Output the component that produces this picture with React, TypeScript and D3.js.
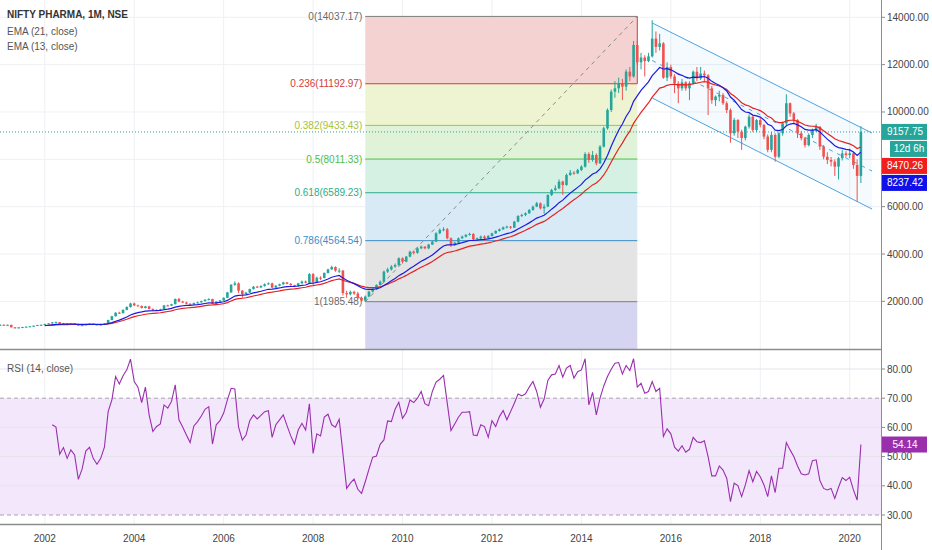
import { useMemo } from "react";
import * as d3 from "d3";

const WIDTH = 932;
const HEIGHT = 550;
const AXIS_X = 881;
const MAIN_BOTTOM = 349;
const RSI_TOP = 350;
const RSI_BOTTOM = 524;
const FONT = "'Liberation Sans', Arial, sans-serif";

const UP = "#26a69a";
const DOWN = "#ef5350";

// monthly bars, index 0 = Jan 2001
const FIRST_OPEN = 990;
const closes = [
  1010, 1000, 1005, 905, 870, 900, 915, 930, 945, 970, 1000, 1010,
  1040, 1070, 1110, 1120, 1050, 1075, 1035, 1060, 1045, 975, 995, 1040,
  1055, 1025, 1005, 1020, 1060, 1210, 1370, 1520, 1500, 1640, 1760, 1910,
  1830, 1800, 1720, 1790, 1680, 1620, 1640, 1660, 1830, 1820, 1880, 2100,
  1990, 1950, 1900, 1860, 1930, 1960, 2010, 2070, 2100, 1900, 1990, 2040,
  2150, 2380, 2700, 2760, 2450, 2300, 2370, 2520, 2620, 2590, 2650, 2720,
  2760, 2580, 2660, 2720, 2800, 2740, 2680, 2640, 2760, 2840, 2790, 3150,
  2820, 3000, 2990, 3200, 3350, 3450, 3300, 3300, 2350, 2300, 2400, 2330,
  2150, 2030, 2200, 2410, 2510, 2690, 2830, 3256, 3350, 3467, 3537, 3819,
  3678, 3889, 4101, 4050, 4241, 4312, 4241, 4400, 4523, 4875, 5016, 5044,
  4664, 4382, 4481, 4664, 4734, 4805, 4847, 4621, 4664, 4734, 4664, 4763,
  4875, 4974, 5044, 5128, 5157, 5114, 5368, 5607, 5649, 5720, 5861, 6001,
  6142, 5931, 6001, 6494, 6706, 6776, 7058, 6917, 7339, 7438, 7409, 7550,
  7691, 8226, 7973, 8184, 7832, 8536, 9310, 10085, 10859, 11000, 11211, 11070,
  11704, 11500, 12830, 12100, 12300, 12150, 12350, 13100, 12750, 12900, 11450, 11900,
  11500, 11200, 11000, 11250, 11000, 11220, 11700, 11420, 11620, 11550, 11000, 10500,
  10650, 10720, 10370, 10080, 9100, 9660, 9170, 8900, 9380, 9800, 9240, 9660,
  9450, 8960, 8400, 9030, 8110, 9100, 9520, 10370, 9940, 9660, 9100, 8890,
  8600, 9030, 9240, 9380, 8540, 8110, 7970, 7900, 7690, 8050, 8250, 8180,
  8250, 7760, 7300, 9157.75,
];
const highs = [
  1030, 1025, 1020, 1015, 915, 910, 925, 940, 955, 980, 1010, 1025,
  1055, 1085, 1125, 1150, 1130, 1090, 1085, 1075, 1070, 1055, 1005, 1050,
  1070, 1065, 1035, 1035, 1075, 1225, 1390, 1540, 1560, 1660, 1790, 1940,
  1950, 1860, 1830, 1810, 1810, 1700, 1660, 1690, 1850, 1860, 1900, 2120,
  2150, 2020, 1990, 1920, 1950, 1990, 2030, 2090, 2130, 2110, 2010, 2060,
  2170, 2400, 2730, 2850, 2800, 2480, 2400, 2540, 2650, 2660, 2680, 2760,
  2800, 2790, 2690, 2750, 2830, 2820, 2770, 2700, 2780, 2880, 2880, 3200,
  3200, 3050, 3060, 3220, 3380, 3510, 3480, 3400, 3330, 2450, 2450, 2450,
  2400, 2200, 2250, 2450, 2560, 2720, 2880, 3300, 3420, 3530, 3600, 3860,
  3860, 3920, 4140, 4150, 4280, 4360, 4330, 4430, 4560, 4920, 5080, 5130,
  5100, 4700, 4520, 4700, 4780, 4850, 4900, 4880, 4700, 4780, 4790, 4800,
  4900, 5000, 5080, 5160, 5200, 5180, 5400, 5640, 5700, 5760, 5900, 6050,
  6200, 6180, 6100, 6520, 6750, 6900, 7150, 7100, 7400, 7550, 7500, 7600,
  7750, 8300, 8300, 8350, 8250, 8600, 9380, 10150, 10950, 11300, 11450, 11400,
  11800, 11900, 13000, 13000, 12500, 12400, 12500, 13880, 13400, 13300, 12950, 12100,
  12000, 11600, 11300, 11400, 11300, 11300, 11750, 11900, 11900, 11750, 11600, 11100,
  10700, 10900, 10800, 10450, 10150, 9750, 9700, 9250, 9420, 9900, 9850, 9700,
  9750, 9500, 9050, 9150, 9100, 9150, 9600, 10750, 10400, 10000, 9700, 9200,
  8950, 9100, 9300, 9500, 9400, 8600, 8300, 8100, 8000, 8100, 8400, 8350,
  8450, 8300, 8000, 9400,
];
const lows = [
  975, 985, 980, 890, 850, 860, 890, 905, 920, 935, 960, 990,
  1000, 1030, 1060, 1100, 1040, 1045, 1025, 1030, 1035, 965, 965, 990,
  1030, 1015, 990, 995, 1010, 1050, 1200, 1360, 1470, 1490, 1620, 1740,
  1800, 1780, 1700, 1700, 1660, 1580, 1600, 1620, 1650, 1790, 1800, 1870,
  1960, 1930, 1880, 1840, 1840, 1910, 1940, 1990, 2040, 1880, 1880, 1970,
  2020, 2130, 2360, 2660, 2350, 2150, 2280, 2350, 2500, 2570, 2560, 2620,
  2700, 2560, 2520, 2640, 2700, 2720, 2660, 2600, 2620, 2740, 2760, 2770,
  2700, 2800, 2900, 2970, 3180, 3330, 3250, 3200, 2250, 2150, 2250, 2270,
  2100, 1990, 1985.48, 2180, 2380, 2480, 2660, 2800, 3200, 3300, 3420, 3500,
  3600, 3650, 3860, 3980, 4010, 4200, 4200, 4200, 4380, 4500, 4840, 4960,
  4620, 4300, 4340, 4450, 4640, 4700, 4780, 4560, 4560, 4620, 4560, 4620,
  4740, 4850, 4950, 5020, 5080, 5060, 5100, 5340, 5560, 5600, 5700, 5830,
  5980, 5880, 5700, 5980, 6450, 6650, 6740, 6500, 6880, 7300, 7350, 7380,
  7500, 7650, 7850, 7900, 7750, 7800, 8500, 9250, 10000, 10600, 10800, 10500,
  10900, 11300, 11450, 12000, 11800, 11500, 12100, 12300, 12500, 12600, 11400, 11300,
  11400, 10800, 10370, 10900, 10900, 10500, 11150, 11300, 11350, 11300, 9870, 10350,
  10250, 10450, 10300, 9950, 8700, 9000, 8900, 8400, 8800, 9300, 9150, 9150,
  9350, 8850, 8300, 8300, 7900, 8050, 9000, 9450, 9800, 9500, 8900, 8800,
  8500, 8550, 8900, 9150, 8400, 8000, 7800, 7700, 7300, 7150, 7950, 8100,
  8050, 7600, 6212, 7000,
];

const RSI_START = 14;
const rsiValues = [
  60.9, 60.1, 50.8, 53.1, 49.4, 52.3, 50.6, 42.2, 45.7, 51.9,
  53.2, 49.4, 47.4, 49.4, 53.2, 65.4, 69.4, 77.4, 74.9, 77.7,
  79.7, 83.4, 75.7, 73.8, 68.5, 73.8, 64.3, 58.6, 60.3, 61.2,
  67.7, 66.6, 68.9, 74.6, 62.6, 60.1, 57.4, 54.8, 60.5, 62.0,
  63.9, 66.2, 67.1, 54.3, 60.9, 62.3, 64.9, 69.4, 73.4, 73.2,
  60.1, 55.7, 57.4, 62.3, 64.3, 62.9, 64.1, 65.4, 65.7, 56.6,
  60.9, 62.6, 64.3, 60.6, 57.1, 54.3, 59.1, 61.4, 59.1, 68.1,
  51.1, 57.8, 57.1, 63.5, 64.5, 60.9, 60.1, 62.8, 51.1, 39.1,
  40.9, 42.3, 38.8, 37.4, 41.4, 45.7, 49.8, 50.2, 54.2, 55.7,
  62.2, 62.0, 66.2, 68.6, 63.1, 65.1, 69.4, 68.5, 70.0, 72.3,
  68.1, 67.4, 72.3, 75.5, 76.5, 77.8, 68.3, 58.9, 61.2, 63.5,
  65.2, 65.2, 65.4, 57.4, 57.2, 60.9, 60.3, 56.6, 62.3, 60.3,
  63.7, 65.8, 62.6, 65.4, 68.3, 71.4, 70.8, 71.5, 73.8, 75.7,
  72.3, 66.9, 69.7, 76.1, 78.0, 78.3, 81.2, 77.2, 80.3, 81.2,
  76.9, 79.1, 79.7, 83.5, 67.7, 72.0, 64.3, 70.0,
  74.2, 77.4, 79.9, 82.0, 82.2, 78.3, 81.2, 79.5, 83.5, 73.8,
  75.1, 71.7, 72.3, 75.7, 72.3, 73.4, 56.9, 59.5, 57.8, 53.2,
  51.9, 53.7, 51.5, 52.5, 56.6, 55.1, 54.8, 55.4, 50.0, 43.4,
  43.4, 46.8, 45.4, 42.6, 34.6, 40.9, 40.1, 36.3, 40.3, 45.2,
  41.4, 44.9, 43.1, 40.3, 36.3, 43.4, 37.7, 46.0, 46.0, 54.8,
  52.3, 50.0, 46.8, 44.1, 43.7, 44.1, 48.6, 48.9, 41.8, 39.1,
  38.6, 39.1, 35.7, 39.5, 42.8, 41.8, 42.9, 38.6, 35.1, 54.14,
];

const priceTicks = [2000, 4000, 6000, 8000, 10000, 12000, 14000];
const rsiTicks = [30, 40, 50, 60, 70, 80];
const yearTicks = [2002, 2004, 2006, 2008, 2010, 2012, 2014, 2016, 2018, 2020];

// fibonacci retracement drawing
const FIB_HIGH = 14037.172;
const FIB_LOW = 1985.482;
const FIB_FROM_BAR = 98; // Mar 2009
const FIB_TO_BAR = 171; // Apr 2015
const fibLevels = [0, 0.236, 0.382, 0.5, 0.618, 0.786, 1, 1.618];
const fibLineColors = ["#7d7d7d", "#d33c3c", "#a8c238", "#4cbe4c", "#2aad8b", "#3a8fc8", "#7d7d7d", "#7d7d7d"];
const fibZoneColors = ["#f5d2d2", "#eef4d1", "#e0f3d8", "#d5f1e3", "#d8eaf6", "#e4e4e4", "#d5d5f2"];

// parallel channel drawing
const channelStart = { bar: 175, upper: 13760, lower: 10590 };
const channelEnd = { bar: 234, upper: 9110, lower: 5900 };

const LAST_CLOSE = 9157.75;
const EMA21_LAST = 8470.26;
const EMA13_LAST = 8237.42;
const RSI_LAST = 54.14;

function ema(values: number[], len: number) {
  const k = 2 / (len + 1);
  let prev = values[0];
  return values.map((v, i) => {
    prev = i === 0 ? v : v * k + prev * (1 - k);
    return prev;
  });
}

export default function App() {
  const xScale = d3.scaleLinear().domain([12, 228]).range([44.8, 849.7]);
  const yPrice = d3.scaleLinear().domain([0, 14000]).range([348.7, 17.3]);
  const yRsi = d3.scaleLinear().domain([30, 80]).range([515, 369]);

  const bars = useMemo(
    () =>
      closes.map((c, i) => {
        const o = i === 0 ? FIRST_OPEN : closes[i - 1];
        return { i, o, c, h: Math.max(highs[i], o, c), l: Math.min(lows[i], o, c) };
      }),
    []
  );

  const ema21 = useMemo(() => ema(closes, 21), []);
  const ema13 = useMemo(() => ema(closes, 13), []);

  const emaLine = d3
    .line<[number, number]>()
    .x((d) => xScale(d[0]))
    .y((d) => yPrice(d[1]));
  const ema21Path = emaLine(ema21.map((v, i) => [i, v] as [number, number]).filter((d) => d[0] >= 12)) || "";
  const ema13Path = emaLine(ema13.map((v, i) => [i, v] as [number, number]).filter((d) => d[0] >= 12)) || "";

  const rsiPath =
    d3
      .line<number>()
      .x((_, i) => xScale(RSI_START + i))
      .y((d) => yRsi(d))(rsiValues) || "";

  const bodyW = 2.6;

  const fibPrice = (lvl: number) => FIB_HIGH - lvl * (FIB_HIGH - FIB_LOW);
  const fibX0 = xScale(FIB_FROM_BAR);
  const fibX1 = xScale(FIB_TO_BAR);

  const chLine = d3.line<[number, number]>().x((d) => xScale(d[0])).y((d) => yPrice(d[1]));
  const cx0 = xScale(channelStart.bar);
  const cx1 = xScale(channelEnd.bar);
  const chPoly = [
    [cx0, yPrice(channelStart.upper)],
    [cx1, yPrice(channelEnd.upper)],
    [cx1, yPrice(channelEnd.lower)],
    [cx0, yPrice(channelStart.lower)],
  ]
    .map((p) => p.join(","))
    .join(" ");

  // stacked price labels on the right axis
  const labelBoxes: { text: string; fill: string; y: number; narrow?: boolean }[] = [];
  const natural = [
    { text: LAST_CLOSE.toFixed(2), fill: UP, y: yPrice(LAST_CLOSE) },
    { text: "12d 6h", fill: UP, y: yPrice(LAST_CLOSE), narrow: true },
    { text: EMA21_LAST.toFixed(2), fill: "#f01e1e", y: yPrice(EMA21_LAST) },
    { text: EMA13_LAST.toFixed(2), fill: "#1010e8", y: yPrice(EMA13_LAST) },
  ];
  natural.forEach((b, i) => {
    const y = i === 0 ? b.y : Math.max(b.y, labelBoxes[i - 1].y + 17);
    labelBoxes.push({ ...b, y });
  });

  return (
    <div style={{ position: "absolute", left: 0, top: 0, width: WIDTH, height: HEIGHT, background: "#fff" }}>
      <svg width={WIDTH} height={HEIGHT} style={{ display: "block", fontFamily: FONT }}>
        <defs>
          <clipPath id="mainClip">
            <rect x={0} y={0} width={AXIS_X} height={MAIN_BOTTOM} />
          </clipPath>
          <clipPath id="rsiClip">
            <rect x={0} y={RSI_TOP} width={AXIS_X} height={RSI_BOTTOM - RSI_TOP} />
          </clipPath>
        </defs>
        <rect x={0} y={0} width={WIDTH} height={HEIGHT} fill="#fff" />

        {/* grid */}
        {yearTicks.map((yr) => {
          const x = xScale((yr - 2001) * 12);
          return <line key={yr} x1={x} x2={x} y1={0} y2={RSI_BOTTOM} stroke="#eef0f4" />;
        })}
        {priceTicks.map((p) => (
          <line key={p} x1={0} x2={AXIS_X} y1={yPrice(p)} y2={yPrice(p)} stroke="#eef0f4" />
        ))}

        {/* main pane */}
        <g clipPath="url(#mainClip)">
          {fibLevels.slice(0, -1).map((lvl, i) => {
            const yTop = yPrice(fibPrice(lvl));
            const yBot = Math.min(yPrice(fibPrice(fibLevels[i + 1])), MAIN_BOTTOM);
            return <rect key={lvl} x={fibX0} y={yTop} width={fibX1 - fibX0} height={yBot - yTop} fill={fibZoneColors[i]} />;
          })}
          {fibLevels.slice(0, -1).map((lvl, i) => (
            <line
              key={lvl}
              x1={fibX0}
              x2={fibX1}
              y1={yPrice(fibPrice(lvl))}
              y2={yPrice(fibPrice(lvl))}
              stroke={fibLineColors[i]}
              strokeWidth={1}
            />
          ))}
          <line x1={fibX1} x2={fibX1} y1={yPrice(fibPrice(0))} y2={yPrice(fibPrice(0.236))} stroke={fibLineColors[1]} />
          <line
            x1={fibX0}
            y1={yPrice(FIB_LOW)}
            x2={fibX1}
            y2={yPrice(FIB_HIGH)}
            stroke="#8a8a8a"
            strokeDasharray="4 4"
          />
          {fibLevels.slice(0, -1).map((lvl, i) => (
            <text
              key={lvl}
              x={fibX0 - 3}
              y={yPrice(fibPrice(lvl))}
              textAnchor="end"
              dominantBaseline="central"
              fontSize={10}
              fill={fibLineColors[i] === "#7d7d7d" ? "#6a6a6a" : fibLineColors[i]}
            >
              {`${lvl}(${fibPrice(lvl).toFixed(2)})`}
            </text>
          ))}

          {/* channel */}
          <polygon points={chPoly} fill="#2196f3" fillOpacity={0.05} />
          <path
            d={chLine([[channelStart.bar, channelStart.upper], [channelEnd.bar, channelEnd.upper]]) || ""}
            stroke="#4ba3e6"
            fill="none"
          />
          <path
            d={chLine([[channelStart.bar, channelStart.lower], [channelEnd.bar, channelEnd.lower]]) || ""}
            stroke="#4ba3e6"
            fill="none"
          />
          <path
            d={
              chLine([
                [channelStart.bar, (channelStart.upper + channelStart.lower) / 2],
                [channelEnd.bar, (channelEnd.upper + channelEnd.lower) / 2],
              ]) || ""
            }
            stroke="#4ba3e6"
            strokeDasharray="4 5"
            fill="none"
          />

          {/* last price line */}
          <line
            x1={0}
            x2={AXIS_X}
            y1={yPrice(LAST_CLOSE)}
            y2={yPrice(LAST_CLOSE)}
            stroke={UP}
            strokeDasharray="1 2"
          />

          {/* candles */}
          {bars.map((b) => {
            const x = xScale(b.i);
            const color = b.c >= b.o ? UP : DOWN;
            const yTop = yPrice(Math.max(b.o, b.c));
            const yBot = yPrice(Math.min(b.o, b.c));
            return (
              <g key={b.i}>
                <line x1={x} x2={x} y1={yPrice(b.h)} y2={yPrice(b.l)} stroke={color} strokeWidth={1} />
                <rect x={x - bodyW / 2} y={yTop} width={bodyW} height={Math.max(1, yBot - yTop)} fill={color} />
              </g>
            );
          })}

          <path d={ema21Path} fill="none" stroke="#e52222" strokeWidth={1.2} />
          <path d={ema13Path} fill="none" stroke="#1b1be0" strokeWidth={1.2} />
        </g>

        {/* legend */}
        <text x={7} y={18} fontSize={10} fontWeight={700} fill="#333">
          NIFTY PHARMA, 1M, NSE
        </text>
        <text x={7} y={35} fontSize={10} fill="#555">
          EMA (21, close)
        </text>
        <text x={7} y={50} fontSize={10} fill="#555">
          EMA (13, close)
        </text>

        {/* RSI pane */}
        <g clipPath="url(#rsiClip)">
          <rect x={0} y={yRsi(70)} width={AXIS_X} height={yRsi(30) - yRsi(70)} fill="#f3e7fc" />
          {rsiTicks
            .filter((t) => t !== 30 && t !== 70)
            .map((t) => (
              <line key={t} x1={0} x2={AXIS_X} y1={yRsi(t)} y2={yRsi(t)} stroke="#e6e3ec" />
            ))}
          {[70, 30].map((t) => (
            <line key={t} x1={0} x2={AXIS_X} y1={yRsi(t)} y2={yRsi(t)} stroke="#a9a2b0" strokeDasharray="4 3" />
          ))}
          <path d={rsiPath} fill="none" stroke="#9a2fae" strokeWidth={1.1} />
        </g>
        <text x={7} y={372} fontSize={10} fill="#555">
          RSI (14, close)
        </text>

        {/* pane separators and axis line */}
        <line x1={0} x2={AXIS_X} y1={MAIN_BOTTOM + 0.5} y2={MAIN_BOTTOM + 0.5} stroke="#8c8c8c" strokeWidth={1.6} />
        <line x1={0} x2={AXIS_X} y1={RSI_BOTTOM + 0.5} y2={RSI_BOTTOM + 0.5} stroke="#8c8c8c" strokeWidth={1.6} />
        <line x1={AXIS_X + 0.5} x2={AXIS_X + 0.5} y1={0} y2={HEIGHT} stroke="#8c8c8c" />

        {/* price axis */}
        {priceTicks
          .filter((p) => !labelBoxes.some((b) => Math.abs(b.y - yPrice(p)) < 12))
          .map((p) => (
            <g key={p}>
              <line x1={AXIS_X} x2={AXIS_X + 4} y1={yPrice(p)} y2={yPrice(p)} stroke="#8c8c8c" />
              <text x={AXIS_X + 6} y={yPrice(p)} dominantBaseline="central" fontSize={10} fill="#444">
                {p.toFixed(2)}
              </text>
            </g>
          ))}
        {labelBoxes.map((b, i) => (
          <g key={i}>
            <rect x={b.narrow ? AXIS_X + 9 : AXIS_X + 1} y={b.y - 8} width={b.narrow ? 37 : 45} height={16} fill={b.fill} />
            <text x={AXIS_X + 24 + (b.narrow ? 4 : 0)} y={b.y} textAnchor="middle" dominantBaseline="central" fontSize={10} fill="#fff">
              {b.text}
            </text>
          </g>
        ))}

        {/* RSI axis */}
        {rsiTicks.map((t) => (
          <g key={t}>
            <line x1={AXIS_X} x2={AXIS_X + 4} y1={yRsi(t)} y2={yRsi(t)} stroke="#8c8c8c" />
            <text x={AXIS_X + 6} y={yRsi(t)} dominantBaseline="central" fontSize={10} fill="#444">
              {t.toFixed(2)}
            </text>
          </g>
        ))}
        <rect x={AXIS_X + 1} y={yRsi(RSI_LAST) - 8} width={45} height={16} fill="#9a2fae" />
        <text x={AXIS_X + 24} y={yRsi(RSI_LAST)} textAnchor="middle" dominantBaseline="central" fontSize={10} fill="#fff">
          {RSI_LAST.toFixed(2)}
        </text>

        {/* time axis */}
        {yearTicks.map((yr) => (
          <text key={yr} x={xScale((yr - 2001) * 12)} y={538} textAnchor="middle" dominantBaseline="central" fontSize={10} fill="#444">
            {yr}
          </text>
        ))}
      </svg>
    </div>
  );
}
